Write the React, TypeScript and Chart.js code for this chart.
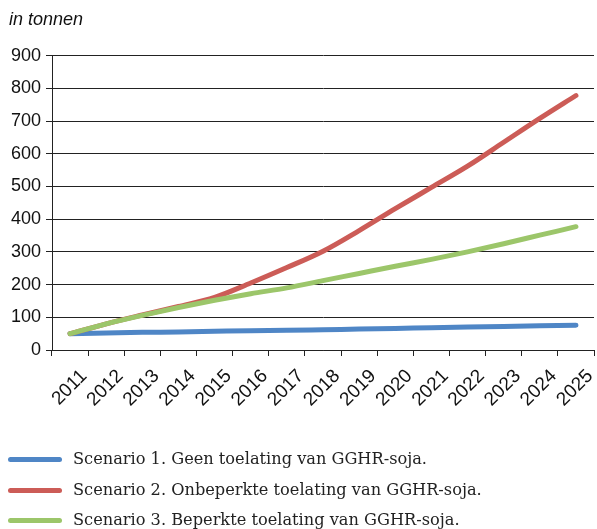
import React, { useEffect, useRef } from "react";
import { Chart, registerables } from "chart.js";

Chart.register(...registerables);

const years = ["2011", "2012", "2013", "2014", "2015", "2016", "2017", "2018", "2019", "2020", "2021", "2022", "2023", "2024", "2025"];
const scenario1 = [50, 52, 54, 55, 57, 59, 60, 62, 64, 66, 68, 70, 72, 74, 76];
const scenario2 = [50, 80, 107, 133, 161, 205, 252, 302, 365, 432, 497, 562, 635, 708, 778];
const scenario3 = [50, 80, 106, 130, 152, 172, 190, 212, 234, 256, 277, 300, 325, 351, 377];
const yTicks = [0, 100, 200, 300, 400, 500, 600, 700, 800, 900];

const seriesNames = [
  "Scenario 1. Geen toelating van GGHR-soja.",
  "Scenario 2. Onbeperkte toelating van GGHR-soja.",
  "Scenario 3. Beperkte toelating van GGHR-soja.",
];
const seriesColors = ["#4f86c6", "#cc5c57", "#9cc66a"];

export default function App() {
  const ref = useRef<HTMLCanvasElement | null>(null);
  useEffect(() => {
    if (!ref.current) return;
    const sans = "'Liberation Sans', Arial, sans-serif";
    const chart = new Chart(ref.current, {
      type: "line",
      data: {
        labels: years,
        datasets: [
          { label: seriesNames[0], data: scenario1, borderColor: seriesColors[0], backgroundColor: seriesColors[0], order: 2 },
          { label: seriesNames[1], data: scenario2, borderColor: seriesColors[1], backgroundColor: seriesColors[1], order: 1 },
          { label: seriesNames[2], data: scenario3, borderColor: seriesColors[2], backgroundColor: seriesColors[2], order: 0 },
        ],
      },
      options: {
        animation: false,
        responsive: false,
        layout: { padding: { left: 9, right: 3, top: 0, bottom: 119 } },
        elements: {
          line: { borderWidth: 5, tension: 0.3, cubicInterpolationMode: "monotone", borderCapStyle: "round", borderJoinStyle: "round" },
          point: { radius: 0 },
        },
        plugins: {
          title: {
            display: true,
            text: "in tonnen",
            align: "start",
            color: "#111",
            font: { family: sans, size: 18, style: "italic", weight: "normal" },
            padding: { top: 9, bottom: 25 },
          },
          legend: { display: false },
          tooltip: { enabled: false },
        },
        scales: {
          x: {
            offset: true,
            afterFit: (axis: any) => {
              axis.height = 60;
              axis.paddingRight = 0;
              axis.paddingLeft = 0;
            },
            grid: { offset: true, drawOnChartArea: false, drawTicks: true, tickLength: 6, color: "#222" },
            border: { display: true, color: "#222", width: 1 },
            ticks: {
              maxRotation: 45,
              minRotation: 45,
              autoSkip: false,
              color: "#111",
              padding: 9,
              labelOffset: 14,
              font: { family: sans, size: 19 },
            },
          },
          y: {
            min: 0,
            max: 900,
            afterFit: (axis: any) => {
              axis.width = 43;
            },
            afterBuildTicks: (axis: any) => {
              axis.ticks = yTicks.map((v) => ({ value: v }));
            },
            grid: { color: "#222", lineWidth: 1, tickLength: 6 },
            border: { display: true, color: "#222", width: 1 },
            ticks: { color: "#111", padding: 5, font: { family: sans, size: 18 } },
          },
        },
      },
    });
    return () => chart.destroy();
  }, []);
  const rowCenters = [459, 490, 520];
  return (
    <div style={{ position: "absolute", left: 0, top: 0, width: 597, height: 529, background: "#fff", overflow: "hidden" }}>
      <canvas ref={ref} width={597} height={529} style={{ display: "block" }} />
      {seriesNames.map((name, i) => (
        <div key={name} style={{ position: "absolute", left: 0, top: rowCenters[i] - 12, height: 24, width: 597 }}>
          <span
            style={{
              position: "absolute",
              left: 8,
              top: 9.5,
              width: 54,
              height: 5,
              borderRadius: 2.5,
              background: seriesColors[i],
            }}
          />
          <span
            style={{
              position: "absolute",
              left: 73,
              top: 0,
              lineHeight: "24px",
              fontFamily: "'DejaVu Serif', Georgia, serif",
              fontSize: 16.2,
              color: "#222",
              whiteSpace: "nowrap",
            }}
          >
            {name}
          </span>
        </div>
      ))}
    </div>
  );
}
